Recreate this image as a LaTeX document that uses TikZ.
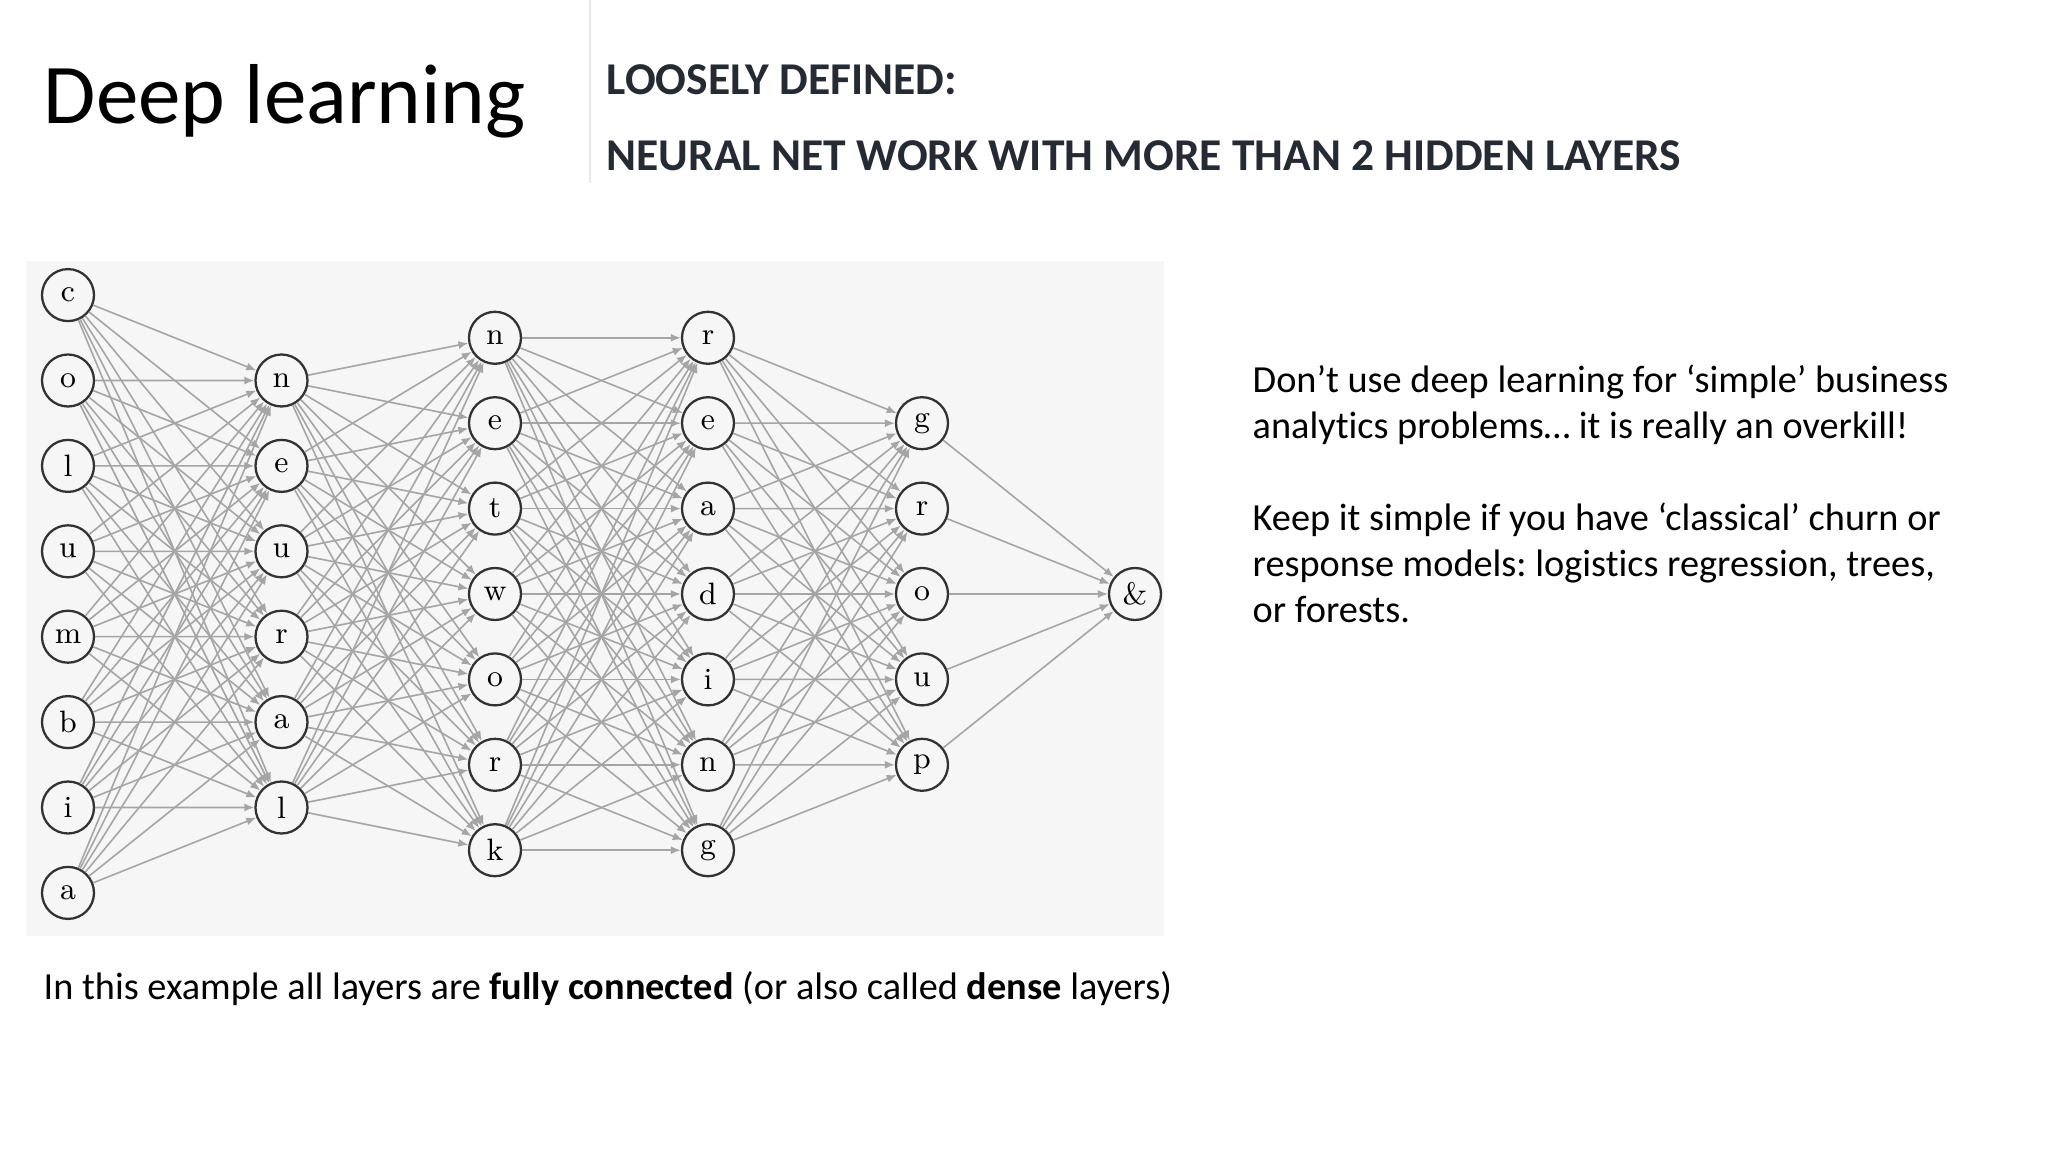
\documentclass[tikz,border=0pt]{standalone}
\usepackage{fontspec}
\usetikzlibrary{positioning,arrows.meta}
\newfontfamily\calibri[Ligatures=NoCommon]{Carlito}
\frenchspacing
\definecolor{headgray}{RGB}{38,43,51}
\definecolor{wiregray}{RGB}{165,165,165}
\definecolor{ringgray}{RGB}{50,50,50}
\definecolor{panelgray}{RGB}{246,246,246}
\definecolor{rulegray}{RGB}{232,232,232}

\begin{document}
\begin{tikzpicture}[
    neuron/.style={
        circle,
        draw=ringgray,
        line width=0.65pt,
        fill=panelgray,
        minimum size=0.52cm,
        inner sep=0pt,
        font=\fontsize{8.8}{10}\selectfont
    },
    wire/.style={
        -{Latex[length=1mm,width=0.8mm]},
        line width=0.45pt,
        wiregray
    },
    heading/.style={
        anchor=base west,
        inner sep=0pt,
        text=headgray,
        font=\calibri\bfseries\fontsize{12.95}{15}\selectfont
    },
    body/.style={
        inner sep=0pt,
        align=left,
        font=\calibri\fontsize{10.9}{13.1}\selectfont
    }
]
\fill[white] (0,0) rectangle (20.48,-11.52);
\useasboundingbox (0,0) rectangle (20.48,-11.52);

% ---------------- Title ----------------
\node[anchor=base west, inner sep=0pt, font=\calibri\fontsize{24.2}{29}\selectfont] (title) at (0.43,-1.24) {Deep learning};
\draw[rulegray, line width=0.6pt] (5.90,0) -- (5.90,-1.83);
\node[heading] (loose) at (6.06,-0.95) {LOOSELY DEFINED:};
\node[heading] (defn) at (6.06,-1.71) {NEURAL NET WORK WITH MORE THAN 2 HIDDEN LAYERS};

% ---------------- Network ----------------
\fill[panelgray] (0.26,-2.61) rectangle (11.64,-9.36);

\foreach \ch [count=\i] in {c,o,l,u,m,b,i,a}
    \node[neuron] (inp\i) at (0.68,{-2.951-(\i-1)*0.854}) {\ch};
\foreach \ch [count=\i] in {n,e,u,r,a,l}
    \node[neuron] (hda\i) at (2.815,{-3.805-(\i-1)*0.854}) {\ch};
\foreach \ch [count=\i] in {n,e,t,w,o,r,k}
    \node[neuron] (hdb\i) at (4.95,{-3.378-(\i-1)*0.854}) {\ch};
\foreach \ch [count=\i] in {r,e,a,d,i,n,g}
    \node[neuron] (hdc\i) at (7.08,{-3.378-(\i-1)*0.854}) {\ch};
\foreach \ch [count=\i] in {g,r,o,u,p}
    \node[neuron] (hdd\i) at (9.22,{-4.232-(\i-1)*0.854}) {\ch};
\node[neuron] (outp) at (11.35,-5.94) {\&};

\foreach \i in {1,...,8}
    \foreach \j in {1,...,6}
        \draw[wire] (inp\i) -- (hda\j);
\foreach \i in {1,...,6}
    \foreach \j in {1,...,7}
        \draw[wire] (hda\i) -- (hdb\j);
\foreach \i in {1,...,7}
    \foreach \j in {1,...,7}
        \draw[wire] (hdb\i) -- (hdc\j);
\foreach \i in {1,...,7}
    \foreach \j in {1,...,5}
        \draw[wire] (hdc\i) -- (hdd\j);
\foreach \i in {1,...,5}
    \draw[wire] (hdd\i) -- (outp);

% ---------------- Notes ----------------
\node[body, anchor=base west] (dense) at (0.43,-9.99)
    {In this example all layers are \textbf{fully connected} (or also called \textbf{dense} layers)};
\node[body, anchor=north west] (advice) at (12.52,-3.64)
    {Don’t use deep learning for ‘simple’ business\\analytics problems… it is really an overkill!};
\node[body, anchor=north west] (keep) at (12.52,-5.02)
    {Keep it simple if you have ‘classical’ churn or\\response models: logistics regression, trees,\\or forests.};

\end{tikzpicture}
\end{document}
